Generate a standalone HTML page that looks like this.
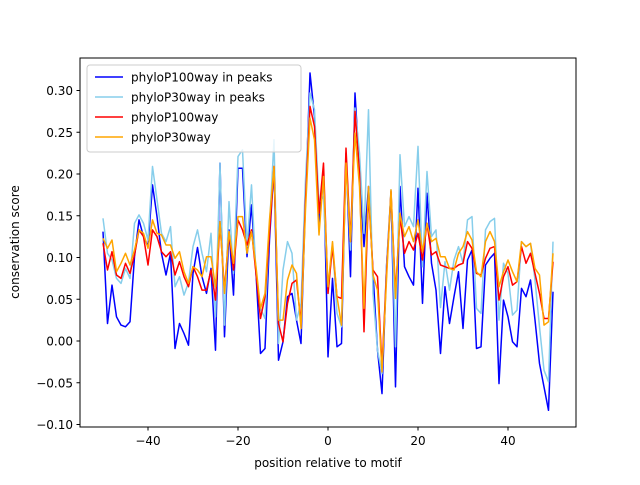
<!DOCTYPE html>
<html><head><meta charset="utf-8"><style>
body{margin:0;background:#fff;}
svg text{font-family:"DejaVu Sans","Liberation Sans",sans-serif;fill:#000;}
</style></head><body>
<svg id="chart" width="640" height="480" viewBox="0 0 640 480">
<rect width="640" height="480" fill="#fff"/>
<g id="series"></g>
<rect x="80" y="58" width="496" height="369" fill="none" stroke="#000" stroke-width="1"/>
<g id="xticks"></g>
<g id="yticks"></g>
<text x="328" y="467" font-size="12" text-anchor="middle">position relative to motif</text>
<text transform="translate(19,242) rotate(-90)" font-size="12" text-anchor="middle">conservation score</text>
<g>
<rect x="87" y="65" width="214" height="87" rx="3" fill="#fff" fill-opacity="0.8" stroke="#ccc"/>
<g><line x1="95" y1="77" x2="123" y2="77" stroke="#0000ff" stroke-width="1.5"/><text x="131" y="81.5" font-size="12">phyloP100way in peaks</text></g>
<g><line x1="95" y1="97" x2="123" y2="97" stroke="#87ceeb" stroke-width="1.5"/><text x="131" y="101.5" font-size="12">phyloP30way in peaks</text></g>
<g><line x1="95" y1="117" x2="123" y2="117" stroke="#ff0000" stroke-width="1.5"/><text x="131" y="121.5" font-size="12">phyloP100way</text></g>
<g><line x1="95" y1="137" x2="123" y2="137" stroke="#ffa500" stroke-width="1.5"/><text x="131" y="141.5" font-size="12">phyloP30way</text></g>
</g>
</svg>
<script>
const positions = Array.from({length:101},(_,i)=>i-50);
const p100Peaks = [0.131,0.021,0.067,0.029,0.019,0.017,0.023,0.101,0.145,0.125,0.113,0.187,0.149,0.105,0.079,0.105,-0.009,0.021,0.009,-0.005,0.081,0.112,0.077,0.057,0.087,-0.011,0.213,0.005,0.133,0.055,0.207,0.207,0.101,0.163,0.081,-0.015,-0.009,0.121,0.209,-0.023,-0.001,0.053,0.057,0.025,-0.003,0.169,0.321,0.269,0.137,0.205,-0.019,0.075,-0.007,-0.003,0.225,0.077,0.297,0.205,0.113,0.185,0.081,-0.011,-0.063,0.089,0.177,-0.055,0.185,0.089,0.077,0.067,0.183,0.045,0.177,0.093,0.061,-0.015,0.065,0.021,0.053,0.083,0.015,0.097,0.109,-0.009,-0.007,0.091,0.099,0.105,-0.051,0.049,0.029,-0.001,-0.007,0.063,0.053,0.073,0.025,-0.027,-0.055,-0.083,0.059];
const p30Peaks = [0.147,0.105,0.097,0.075,0.069,0.087,0.075,0.141,0.151,0.141,0.121,0.209,0.169,0.129,0.119,0.137,0.065,0.077,0.055,0.07,0.113,0.133,0.105,0.083,0.129,0.029,0.213,0.019,0.167,0.081,0.221,0.229,0.113,0.187,0.081,0.039,0.027,0.137,0.241,-0.003,0.085,0.119,0.105,0.025,0.045,0.193,0.297,0.277,0.165,0.173,0.057,0.117,0.033,0.017,0.217,0.109,0.279,0.225,0.129,0.277,0.057,-0.011,-0.039,0.089,0.181,-0.007,0.223,0.137,0.149,0.137,0.233,0.089,0.203,0.125,0.133,0.04,0.095,0.061,0.097,0.113,0.093,0.145,0.149,0.039,0.033,0.133,0.143,0.147,0.025,0.093,0.081,0.031,0.037,0.119,0.113,0.117,0.073,0.017,-0.035,-0.049,0.119];
const p100All = [0.117,0.085,0.107,0.079,0.075,0.093,0.081,0.103,0.133,0.125,0.091,0.133,0.125,0.107,0.101,0.107,0.079,0.095,0.077,0.065,0.089,0.077,0.061,0.061,0.085,0.049,0.141,0.061,0.129,0.085,0.145,0.133,0.115,0.133,0.081,0.027,0.053,0.129,0.209,0.021,-0.001,0.045,0.069,0.073,0.021,0.169,0.281,0.257,0.153,0.213,0.057,0.113,0.053,0.051,0.231,0.119,0.275,0.201,0.011,0.177,0.085,0.077,-0.031,0.081,0.179,0.057,0.149,0.105,0.119,0.109,0.129,0.097,0.141,0.103,0.107,0.091,0.089,0.087,0.087,0.091,0.093,0.119,0.111,0.081,0.079,0.099,0.111,0.113,0.049,0.077,0.089,0.067,0.071,0.113,0.093,0.105,0.081,0.057,0.027,0.027,0.095];
const p30All = [0.123,0.111,0.121,0.083,0.093,0.105,0.091,0.109,0.133,0.129,0.111,0.145,0.129,0.127,0.115,0.115,0.099,0.107,0.083,0.069,0.089,0.085,0.077,0.101,0.101,0.065,0.143,0.057,0.131,0.093,0.149,0.149,0.105,0.131,0.089,0.039,0.057,0.145,0.209,0.025,0.025,0.073,0.091,0.081,0.015,0.157,0.267,0.241,0.127,0.197,0.065,0.119,0.053,0.019,0.213,0.119,0.249,0.185,0.039,0.185,0.079,0.061,-0.037,0.073,0.181,0.051,0.153,0.125,0.137,0.119,0.145,0.107,0.141,0.119,0.123,0.101,0.101,0.087,0.085,0.105,0.113,0.131,0.121,0.083,0.077,0.119,0.131,0.119,0.065,0.083,0.097,0.083,0.071,0.119,0.113,0.117,0.087,0.079,0.019,0.023,0.105];
const xTicks = [-40,-20,0,20,40];
const yTicks = [-0.10,-0.05,0.00,0.05,0.10,0.15,0.20,0.25,0.30];
const NS='http://www.w3.org/2000/svg';
function xs(v){return 328+4.5*v;}
function ys(v){return 341-835*v;}
const seriesG=document.getElementById('series');
const series=[[p100Peaks,'#0000ff','line-phylop100way-peaks'],[p30Peaks,'#87ceeb','line-phylop30way-peaks'],[p100All,'#ff0000','line-phylop100way'],[p30All,'#ffa500','line-phylop30way']];
series.forEach(s=>{
  const p=document.createElementNS(NS,'polyline');
  p.setAttribute('points',s[0].map((v,i)=>xs(positions[i]).toFixed(1)+','+ys(v).toFixed(1)).join(' '));
  p.setAttribute('fill','none');p.setAttribute('stroke',s[1]);p.setAttribute('stroke-width','1.5');p.setAttribute('stroke-linejoin','round');
  
  
  seriesG.appendChild(p);
});
const xg=document.getElementById('xticks');
xTicks.forEach(t=>{
  const g=document.createElementNS(NS,'g');
  
  
  g.innerHTML=`<line x1="${xs(t)}" y1="427" x2="${xs(t)}" y2="430.5" stroke="#000"/><text x="${xs(t)}" y="445" font-size="12" text-anchor="middle">${t<0?'\u2212'+(-t):t}</text>`;
  xg.appendChild(g);
});
const yg=document.getElementById('yticks');
yTicks.forEach(t=>{
  const g=document.createElementNS(NS,'g');
  
  
  const lbl=(t<0?'\u2212':'')+Math.abs(t).toFixed(2);
  g.innerHTML=`<line x1="76.5" y1="${ys(t)}" x2="80" y2="${ys(t)}" stroke="#000"/><text x="73" y="${ys(t)+4.5}" font-size="12" text-anchor="end">${lbl}</text>`;
  yg.appendChild(g);
});
</script>
</body></html>
